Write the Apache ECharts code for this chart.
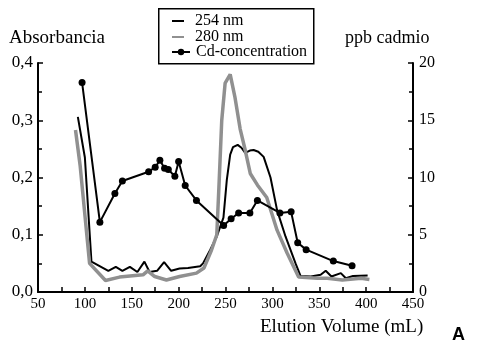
<!DOCTYPE html>
<html><head><meta charset="utf-8">
<script src="https://cdn.jsdelivr.net/npm/echarts@6/dist/echarts.min.js"></script>
<style>html,body{margin:0;padding:0;background:#fff}#c{width:480px;height:344px}</style>
</head><body><div id="c"></div>
<script>
var seriesNames = ['254 nm', '280 nm', 'Cd-concentration'];
var xTicks = [50, 100, 150, 200, 250, 300, 350, 400, 450];
var leftTicks = ['0,0', '0,1', '0,2', '0,3', '0,4'];
var rightTicks = [0, 5, 10, 15, 20];
var abs254 = [[92.5,0.306],[100,0.235],[107,0.053],[125,0.037],[133,0.044],[140,0.037],[148,0.044],[156,0.035],[163.5,0.053],[169,0.035],[177,0.037],[184.5,0.052],[192,0.037],[201,0.041],[210,0.042],[223,0.045],[226,0.05],[233.5,0.073],[240.7,0.097],[247.8,0.13],[251.4,0.196],[255,0.24],[258,0.253],[263,0.257],[267,0.252],[271,0.243],[276,0.247],[280,0.248],[285,0.245],[290.7,0.236],[298,0.2],[305,0.143],[314,0.097],[324.7,0.05],[330,0.028],[341,0.027],[351.5,0.03],[356.9,0.037],[363,0.027],[373,0.033],[378.4,0.024],[386,0.028],[401.6,0.029]];
var abs280 = [[90,0.283],[95,0.22],[105,0.05],[122,0.02],[137,0.026],[162,0.03],[167,0.037],[174.5,0.027],[187,0.021],[201,0.027],[219,0.033],[227,0.042],[235,0.073],[240.7,0.1],[243,0.184],[246,0.3],[249.6,0.365],[255,0.38],[260,0.341],[265.6,0.285],[271,0.248],[276.4,0.207],[284,0.187],[294,0.165],[305,0.108],[315.7,0.068],[328,0.026],[348,0.024],[358.5,0.024],[374.6,0.021],[394.6,0.024],[403.5,0.022]];
var cdConc = [[97,18.3],[116,6.1],[132,8.6],[140,9.7],[168,10.5],[175,10.9],[180,11.5],[185,10.8],[189,10.7],[196,10.1],[200,11.4],[207,9.3],[219,8.0],[248,5.8],[256,6.4],[264,6.9],[276,6.9],[284,8.0],[308,6.9],[320,7.0],[327,4.3],[336,3.7],[365,2.7],[385,2.3]];

var serif = '"Liberation Serif", "DejaVu Serif", serif';
var chart = echarts.init(document.getElementById('c'), null, {renderer: 'canvas'});
var axisLine = {show: true, lineStyle: {color: '#000', width: 2}};
var tickStyle = {color: '#000', width: 1.5};
chart.setOption({
  animation: false,
  backgroundColor: '#fff',
  grid: {left: 38, right: 67, top: 63, bottom: 52},
  legend: [{
    show: true, orient: 'vertical', left: 172, top: 13, itemGap: 0,
    itemWidth: 12, itemHeight: 2, icon: 'rect', padding: 0,
    textStyle: {color: '#000', fontFamily: serif, fontSize: 16, lineHeight: 16, padding: [0,0,0,6]},
    data: [seriesNames[0], seriesNames[1]]
  }, {
    show: true, orient: 'vertical', left: 171, top: 44, itemGap: 0,
    itemWidth: 18, itemHeight: 8, padding: 0,
    textStyle: {color: '#000', fontFamily: serif, fontSize: 16, lineHeight: 16, padding: [0,0,0,1]},
    data: [seriesNames[2]]
  }],
  xAxis: {
    type: 'value', min: xTicks[0], max: xTicks[xTicks.length-1], interval: 50,
    axisLine: axisLine,
    axisTick: {show: true, inside: true, length: 5, lineStyle: tickStyle},
    minorTick: {show: true, splitNumber: 2, length: 5, lineStyle: tickStyle},
    splitLine: {show: false},
    axisLabel: {margin: 5, color: '#000', fontFamily: serif, fontSize: 15,
      formatter: function(v){return xTicks.indexOf(v) >= 0 ? String(v) : '';}}
  },
  yAxis: [{
    type: 'value', min: 0, max: 0.4, interval: 0.1, position: 'left',
    axisLine: axisLine,
    axisTick: {show: true, inside: true, length: 5, lineStyle: tickStyle},
    minorTick: {show: true, splitNumber: 2, length: 4, lineStyle: tickStyle},
    splitLine: {show: false},
    axisLabel: {margin: 5, color: '#000', fontFamily: serif, fontSize: 17,
      formatter: function(v){return leftTicks[Math.round(v*10)];}}
  }, {
    type: 'value', min: 0, max: 20, interval: 5, position: 'right',
    axisLine: axisLine,
    axisTick: {show: true, inside: true, length: 5, lineStyle: tickStyle},
    minorTick: {show: true, splitNumber: 2, length: 4, lineStyle: tickStyle},
    splitLine: {show: false},
    axisLabel: {margin: 6, color: '#000', fontFamily: serif, fontSize: 16,
      formatter: function(v){return rightTicks.indexOf(v) >= 0 ? String(v) : '';}}
  }],
  series: [{
    name: seriesNames[0], type: 'line', yAxisIndex: 0, data: abs254,
    showSymbol: false, symbol: 'none', color: '#000',
    lineStyle: {color: '#000', width: 2}
  }, {
    name: seriesNames[1], type: 'line', yAxisIndex: 0, data: abs280,
    showSymbol: false, symbol: 'none', color: '#909090',
    lineStyle: {color: '#909090', width: 3.5}
  }, {
    name: seriesNames[2], type: 'line', yAxisIndex: 1, data: cdConc,
    symbol: 'circle', symbolSize: 7, color: '#000',
    itemStyle: {color: '#000'},
    lineStyle: {color: '#000', width: 2}
  }],
  graphic: [
    {type: 'rect', left: 158, top: 8, z: -1, shape: {width: 155, height: 55}, style: {fill: '#fff', stroke: '#000', lineWidth: 1.5}},
    {type: 'text', left: 9, top: 29, style: {text: 'Absorbancia', fill: '#000', font: '19px ' + serif}},
    {type: 'text', left: 345, top: 29, style: {text: 'ppb cadmio', fill: '#000', font: '18px ' + serif}},
    {type: 'text', left: 260, top: 318, style: {text: 'Elution Volume (mL)', fill: '#000', font: '19px ' + serif}},
    {type: 'text', left: 452, top: 326, style: {text: 'A', fill: '#000', font: 'bold 18px "Liberation Sans", Arial, sans-serif'}}
  ]
});
</script></body></html>
